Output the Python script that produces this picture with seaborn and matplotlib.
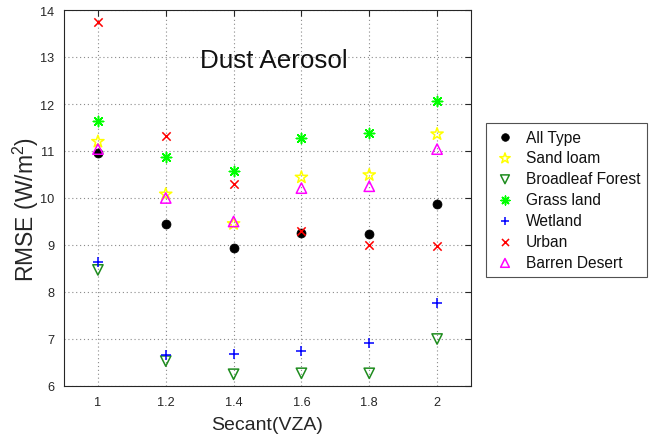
import matplotlib
matplotlib.use("Agg")
import matplotlib.pyplot as plt
import seaborn as sns
import pandas as pd

# Secant of the view zenith angle
secant = [1.0, 1.2, 1.4, 1.6, 1.8, 2.0]

# RMSE (W/m^2) per surface type
all_type = [10.95, 9.45, 8.94, 9.25, 9.24, 9.87]
sand_loam = [11.20, 10.08, 9.45, 10.44, 10.49, 11.36]
broadleaf_forest = [8.47, 6.53, 6.25, 6.27, 6.27, 7.00]
grass_land = [11.64, 10.88, 10.57, 11.27, 11.39, 12.06]
wetland = [8.63, 6.67, 6.68, 6.74, 6.91, 7.76]
urban = [13.75, 11.32, 10.29, 9.29, 8.99, 8.98]
barren_desert = [11.04, 10.00, 9.50, 10.21, 10.25, 11.04]

# (label, values, marker, colour, fill mode, marker area)
series = [
    ("All Type", all_type, "o", "black", True, 42),
    ("Sand loam", sand_loam, "*", "#FFFF00", False, 85),
    ("Broadleaf Forest", broadleaf_forest, "v", "#1E8C1E", False, 55),
    ("Grass land", grass_land, (8, 2, 0), "#00FF00", None, 55),
    ("Wetland", wetland, "+", "#0000FF", None, 50),
    ("Urban", urban, "x", "#FF0000", None, 36),
    ("Barren Desert", barren_desert, "^", "#FF00FF", False, 55),
]

sns.set_style("white")
plt.rcParams["font.family"] = ["Liberation Sans", "DejaVu Sans"]
plt.rcParams["mathtext.fontset"] = "custom"
plt.rcParams["mathtext.rm"] = "Liberation Sans"
plt.rcParams["mathtext.it"] = "Liberation Sans"

fig = plt.figure(figsize=(6.56, 4.39), dpi=100)
ax = fig.add_axes([64 / 656, 1 - 387 / 439, (471 - 64) / 656, (387 - 11) / 439])

for name, vals, marker, color, filled, size in series:
    df = pd.DataFrame({"x": secant, "y": vals})
    kw = dict(data=df, x="x", y="y", marker=marker, s=size, ax=ax, label=name, zorder=3)
    if filled is True:
        kw.update(color=color, edgecolor=color, linewidth=0.5)
    elif filled is False:
        kw.update(facecolor="none", edgecolor=color, linewidth=1.1)
    else:
        kw.update(color=color, linewidth=1.1)
    sns.scatterplot(**kw)

ax.set_xlim(0.9, 2.1)
ax.set_ylim(6, 14)
ax.set_xticks(secant)
ax.set_xticklabels(["1", "1.2", "1.4", "1.6", "1.8", "2"])
ax.set_yticks(range(6, 15))
ax.tick_params(direction="in", length=4, width=0.8, top=True, right=True,
               labelsize=9.2, colors="#262626", pad=7)
ax.grid(True, linestyle=(0, (1, 2.5)), color="#8a8a8a", linewidth=0.8)
ax.set_axisbelow(True)
for sp in ax.spines.values():
    sp.set_color("#262626")
    sp.set_linewidth(0.8)

ax.set_xlabel("Secant(VZA)", fontsize=14, color="#262626", labelpad=6)
ax.set_ylabel("RMSE (W/m$^2$)", fontsize=16.5, color="#262626")
ax.yaxis.set_label_coords(-0.056, 0.473)
ax.text(1.30, 12.79, "Dust Aerosol", fontsize=18.7, ha="left", va="baseline",
        color="#111111")

ax.get_legend().remove()
handles, labels = ax.get_legend_handles_labels()
leg = fig.legend(handles, labels, loc="upper left",
                 bbox_to_anchor=(486 / 656, 1 - 124 / 439),
                 fontsize=11.2, frameon=True, fancybox=False,
                 edgecolor="#262626", handletextpad=0.55, labelspacing=0.38,
                 borderpad=0.42, handlelength=1.6, borderaxespad=0,
                 markerscale=0.85)
leg.get_frame().set_linewidth(0.8)
for t in leg.get_texts():
    t.set_color("#111111")

fig.savefig("out.png", dpi=100, facecolor="white")
